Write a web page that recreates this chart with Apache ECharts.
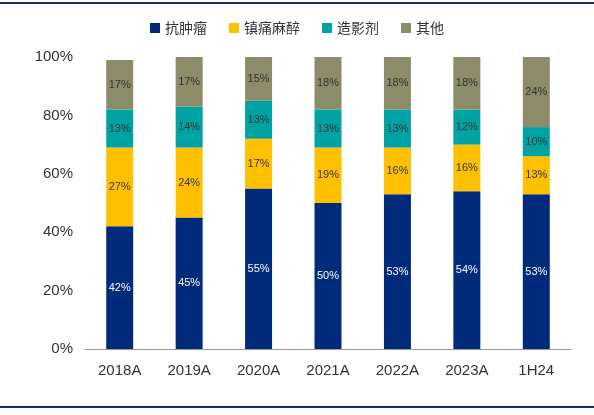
<!DOCTYPE html>
<html>
<head>
<meta charset="utf-8">
<script src="https://cdn.jsdelivr.net/npm/echarts@6/dist/echarts.min.js"></script>
<style>html,body{margin:0;padding:0;background:#fff}#main{width:594px;height:415px}</style>
</head>
<body>
<div id="main"></div>
<script>
const categories = ['2018A', '2019A', '2020A', '2021A', '2022A', '2023A', '1H24'];
const seriesNames = ['抗肿瘤', '镇痛麻醉', '造影剂', '其他'];
const antiTumor = [42, 45, 55, 50, 53, 54, 53];
const analgesia = [27, 24, 17, 19, 16, 16, 13];
const contrast = [13, 14, 13, 13, 13, 12, 10];
const others = [17, 17, 15, 18, 18, 18, 24];
const yTicks = [0, 20, 40, 60, 80, 100];

const colors = ['#002A7A', '#FFC000', '#00A3A3', '#8C8C6A'];
const labelColors = ['#ffffff', '#333333', '#333333', '#333333'];
const values = [antiTumor, analgesia, contrast, others];

const chart = echarts.init(document.getElementById('main'));

chart.setOption({
    animation: false,
    color: colors,
    legend: {
        top: 16,
        left: 'center',
        itemWidth: 10,
        itemHeight: 10,
        itemGap: 22,
        icon: 'rect',
        textStyle: { fontSize: 14, color: '#333', fontFamily: 'Noto Sans CJK SC' },
        data: seriesNames
    },
    grid: { left: 85, right: 23, top: 57, bottom: 66 },
    xAxis: {
        type: 'category',
        data: categories,
        axisLine: { lineStyle: { color: '#999' } },
        axisTick: { show: false },
        axisLabel: { fontSize: 15, color: '#333', margin: 14 }
    },
    yAxis: {
        type: 'value',
        min: yTicks[0],
        max: yTicks[yTicks.length - 1],
        interval: 20,
        splitLine: { show: false },
        axisLine: { show: false },
        axisLabel: { fontSize: 15, color: '#333', formatter: '{value}%', margin: 12 }
    },
    graphic: [
        { type: 'rect', left: 0, top: 2, shape: { width: 594, height: 2 }, style: { fill: '#1F2A6B' } },
        { type: 'rect', left: 0, top: 406, shape: { width: 594, height: 2 }, style: { fill: '#1F2A6B' } }
    ],
    series: seriesNames.map((name, i) => ({
        name: name,
        type: 'bar',
        stack: 'total',
        barWidth: 27,
        data: values[i],
        label: {
            show: true,
            position: 'inside',
            formatter: '{c}%',
            fontSize: 11,
            color: labelColors[i]
        }
    }))
});
</script>
</body>
</html>
